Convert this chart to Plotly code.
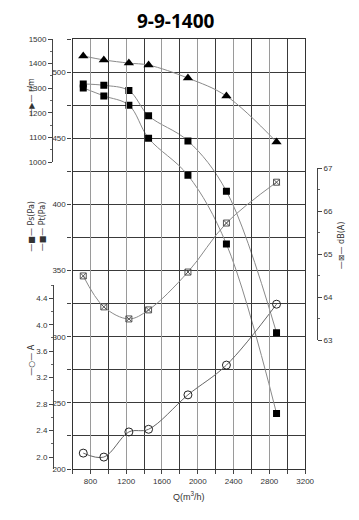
import plotly.graph_objects as go

# ---- data ----
flow = [720, 950, 1230, 1450, 1890, 2320, 2880]          # Q (m3/h)
speed = [1431, 1415, 1402, 1394, 1341, 1268, 1081]        # r/m
pt_pa = [491, 490, 486, 467, 448, 410, 303]               # Pt (Pa)
ps_pa = [488, 482, 475, 450, 422, 370, 242]               # Ps (Pa)
noise_db = [64.49, 63.77, 63.49, 63.70, 64.58, 65.72, 66.67]  # dB(A)
current_a = [2.06, 2.00, 2.38, 2.42, 2.94, 3.39, 4.31]    # A

x_tickvals = [800, 1200, 1600, 2000, 2400, 2800, 3200]
pa_tickvals = [200, 250, 300, 350, 400, 450, 500]
rpm_tickvals = [1000, 1100, 1200, 1300, 1400, 1500]
a_tickvals = [2.0, 2.4, 2.8, 3.2, 3.6, 4.0, 4.4]
a_ticktext = ["2.0", "2.4", "2.8", "3.2", "3.6", "4.0", "4.4"]
db_tickvals = [63, 64, 65, 66, 67]

# work in page pixels; the page shifts the figure down by OFF_Y
OFF_X, OFF_Y = 0, 8
W, H = 359 - OFF_X, 520 - OFF_Y
PLOT_L, PLOT_R, PLOT_T, PLOT_B = 66, 305, 39, 469   # page pixels of plot area
ML, MR = 10, 10
MT = PLOT_T - OFF_Y
MB = H - (PLOT_B - OFF_Y)
PW = W - ML - MR
PH = H - MT - MB

def px_x(px):
    return (px - OFF_X - ML) / PW

def px_y(py):
    return (PLOT_B - py) / PH

LINE = "#8a8a8a"
TICKFONT = dict(family="Liberation Sans Narrow, Liberation Sans, Arial, sans-serif", size=8, color="#333")

fig = go.Figure()

fig.add_trace(go.Scatter(x=flow, y=speed, xaxis="x", yaxis="y2", mode="lines+markers",
                         line=dict(color=LINE, width=1, shape="spline"),
                         marker=dict(symbol="triangle-up", size=9, color="black"),
                         showlegend=False))
fig.add_trace(go.Scatter(x=flow, y=pt_pa, xaxis="x", yaxis="y", mode="lines+markers",
                         line=dict(color=LINE, width=1, shape="spline"),
                         marker=dict(symbol="square", size=7, color="black"),
                         showlegend=False))
fig.add_trace(go.Scatter(x=flow, y=ps_pa, xaxis="x", yaxis="y", mode="lines+markers",
                         line=dict(color=LINE, width=1, shape="spline"),
                         marker=dict(symbol="square", size=7, color="black"),
                         showlegend=False))
fig.add_trace(go.Scatter(x=flow, y=noise_db, xaxis="x", yaxis="y4", mode="lines+markers",
                         line=dict(color=LINE, width=1, shape="spline"),
                         marker=dict(symbol="square-x-open", size=6, color="#555",
                                     line=dict(width=1)),
                         showlegend=False))
fig.add_trace(go.Scatter(x=flow, y=current_a, xaxis="x", yaxis="y3", mode="lines+markers",
                         line=dict(color="#666", width=1, shape="spline"),
                         marker=dict(symbol="circle-open", size=8, color="#222",
                                     line=dict(width=1)),
                         showlegend=False))

x0 = px_x(PLOT_L)
x1 = px_x(PLOT_R)

fig.update_layout(
    width=W, height=H,
    margin=dict(l=ML, r=MR, t=MT, b=MB),
    paper_bgcolor="white", plot_bgcolor="rgba(0,0,0,0)",
    showlegend=False,
    xaxis=dict(domain=[x0, x1], range=[600, 3200], anchor="y",
               tickmode="array", tickvals=x_tickvals,
               ticks="outside", ticklen=4, tickcolor="#444",
               showgrid=True, gridcolor="#9a9a9a", gridwidth=1.3,
               minor=dict(dtick=200, tick0=600, showgrid=True, gridcolor="#3a3a3a",
                          gridwidth=1.3, ticks="outside", ticklen=4, tickcolor="#444"),
               showline=True, linecolor="#333", linewidth=1.3, mirror=True,
               zeroline=False, tickfont=TICKFONT,
               title=dict(text="Q(m<sup>3</sup>/h)", standoff=8,
                          font=dict(family="Liberation Sans, Arial, sans-serif", size=9, color="#333"))),
    yaxis=dict(domain=[0, 1], range=[200, 525], anchor="x",
               tickmode="array", tickvals=pa_tickvals,
               ticks="outside", ticklen=4, tickcolor="#444",
               showgrid=True, gridcolor="#3a3a3a", gridwidth=1.3,
               minor=dict(dtick=25, tick0=200, showgrid=True, gridcolor="#3a3a3a",
                          gridwidth=1.3, ticks="outside", ticklen=4, tickcolor="#444"),
               showline=True, linecolor="#333", linewidth=1.3, mirror=True,
               zeroline=False, tickfont=TICKFONT),
    yaxis2=dict(domain=[px_y(162), 1], range=[1000, 1500], anchor="free",
                position=px_x(45), side="left",
                tickmode="array", tickvals=rpm_tickvals,
                ticks="outside", ticklen=4, tickcolor="#444",
                minor=dict(dtick=50, tick0=1000, ticks="outside", ticklen=2, tickcolor="#666"),
                showline=True, linecolor="#444", linewidth=1,
                showgrid=False, zeroline=False, tickfont=TICKFONT),
    yaxis3=dict(domain=[0, px_y(285)], range=[1.82, 4.6], anchor="free",
                position=px_x(46), side="left",
                tickmode="array", tickvals=a_tickvals, ticktext=a_ticktext,
                ticks="outside", ticklen=4, tickcolor="#444",
                minor=dict(dtick=0.2, tick0=2.0, ticks="outside", ticklen=2, tickcolor="#666"),
                showline=True, linecolor="#444", linewidth=1,
                showgrid=False, zeroline=False, tickfont=TICKFONT),
    yaxis4=dict(domain=[px_y(340), px_y(168)], range=[63, 67], anchor="free",
                position=px_x(317), side="right",
                tickmode="array", tickvals=db_tickvals,
                ticks="outside", ticklen=4, tickcolor="#444",
                minor=dict(dtick=0.5, tick0=63, ticks="outside", ticklen=2, tickcolor="#666"),
                showline=True, linecolor="#444", linewidth=1,
                showgrid=False, zeroline=False, tickfont=TICKFONT),
)

fig.add_annotation(text="<b>9-9-1400</b>", x=px_x(172), y=px_y(21),
                   xref="paper", yref="paper", showarrow=False,
                   xanchor="center", yanchor="middle",
                   font=dict(family="Open Sans, Arial, sans-serif", size=19, color="black"))

LBL = dict(family="DejaVu Sans, Arial, sans-serif", size=8, color="#333")
labels = [
    ("—▶— r/m", 23, 97),
    ("—■— Ps(Pa)", 23, 226),
    ("—■— Pt(Pa)", 35, 226),
    ("—○— A", 23, 360),
    ("—⊠— dB(A)", 342, 245),
]
for txt, px, py in labels:
    fig.add_annotation(text=txt, x=px_x(px), y=px_y(py), xref="paper", yref="paper",
                       textangle=-90, showarrow=False, font=LBL,
                       xanchor="center", yanchor="middle")

fig.write_html("out.html")
